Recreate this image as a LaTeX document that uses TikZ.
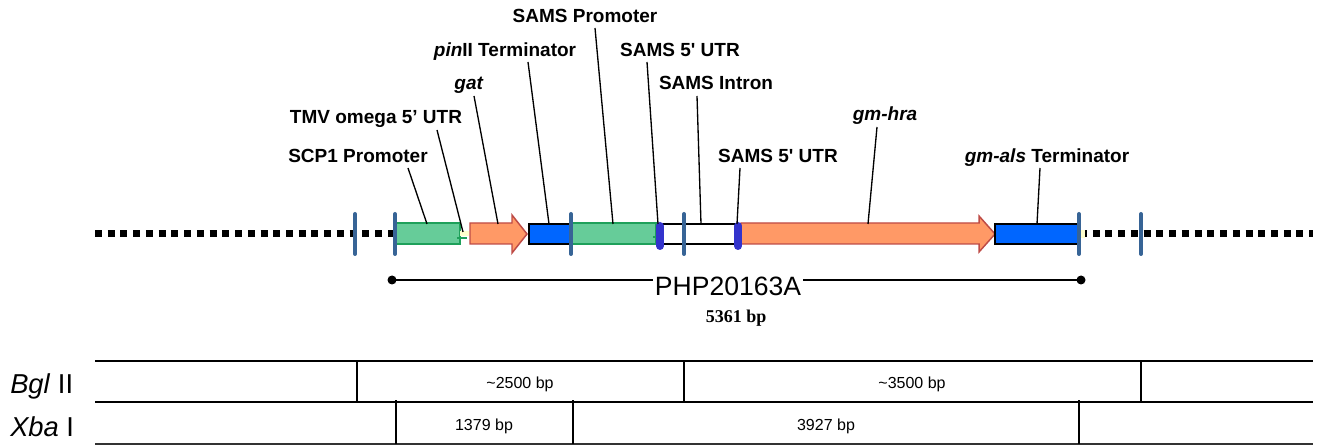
\documentclass[tikz,border=0pt]{standalone}
\usepackage{fontspec}
\setmainfont{Liberation Sans}
\newfontfamily\serifbf{Liberation Serif}
\definecolor{grn}{RGB}{102,204,153}
\definecolor{grnd}{RGB}{30,160,90}
\definecolor{org}{RGB}{255,153,102}
\definecolor{orgd}{RGB}{190,75,70}
\definecolor{blu}{RGB}{0,102,255}
\definecolor{pur}{RGB}{51,51,204}
\definecolor{sitec}{RGB}{55,100,150}
\definecolor{ylw}{RGB}{255,255,204}
\tikzset{
  lbl/.style={font=\fontsize{14.25}{17}\selectfont\bfseries, anchor=base, inner sep=0pt},
  leader/.style={line width=1pt, black},
  site/.style={draw=sitec, line width=3pt, line cap=round},
  backbone/.style={line width=5.25pt, dash pattern=on 5.25pt off 4.3pt},
  greenbox/.style={fill=grn, draw=grnd, line width=1.1pt},
  orangearrow/.style={fill=org, draw=orgd, line width=1.1pt, line join=miter},
  bluebox/.style={fill=blu, draw=black, line width=2.2pt},
  whitebox/.style={fill=white, draw=black, line width=2.2pt},
  purbar/.style={draw=pur, line width=6pt, line cap=round},
  tbl/.style={line width=1.6pt},
  tdiv/.style={line width=1.1pt},
  tlbl/.style={font=\fontsize{20.5}{24}\selectfont, anchor=base west, inner sep=0pt},
  ttxt/.style={font=\fontsize{12}{14}\selectfont, anchor=base, inner sep=0pt},
}
\begin{document}
\begin{tikzpicture}[x=0.75pt,y=-0.75pt]
\useasboundingbox (0,0) rectangle (1319,448);

% backbone
\coordinate (bbL0) at (95,234);
\coordinate (bbL1) at (395,234);
\coordinate (bbR0) at (1080,234);
\coordinate (bbR1) at (1313,234);
\draw[backbone] (bbL0) -- (bbL1);
\draw[backbone] (bbR0) -- (bbR1);

% features
\draw[greenbox] (395,223) rectangle (460,244);
\fill[ylw] (460,231) rectangle (469,236);
\draw[grnd, line width=2pt] (457,238) -- (467,238);
\draw[orangearrow] (470,223) -- (512,223) -- (512,215) -- (527,234) -- (512,253) -- (512,244) -- (470,244) -- cycle;
\draw[bluebox] (529,224) rectangle (571,244);
\draw[greenbox] (571,223) rectangle (656,244);
\draw[grnd, line width=2pt] (653,237) -- (658,237);
\draw[whitebox] (660,224) rectangle (738,244);
\draw[orangearrow] (741,223) -- (979,223) -- (979,216) -- (995,234) -- (979,252) -- (979,244) -- (741,244) -- cycle;
\draw[bluebox] (995,224) rectangle (1078,244);
\fill[ylw] (1080,230) rectangle (1085,238);
\draw[purbar] (660,226) -- (660,246);
\draw[purbar] (738,226) -- (738,246);

% restriction sites
\foreach \x in {355,395,571,684,1079,1141}
  \draw[site] (\x,214) -- (\x,254);

% labels
\node[lbl] (tSP)  at (585,23)  {SAMS Promoter};
\node[lbl] (tPin) at (505,57)  {\textit{pin}II Terminator};
\node[lbl] (tU1)  at (680,57)  {SAMS 5\textquotesingle{} UTR};
\node[lbl] (tGat) at (469,90)  {\textit{gat}};
\node[lbl] (tInt) at (716,90)  {SAMS Intron};
\node[lbl] (tTMV) at (376,124) {TMV omega 5’ UTR};
\node[lbl] (tHra) at (885,121) {\textit{gm-hra}};
\node[lbl] (tSCP) at (358,163) {SCP1 Promoter};
\node[lbl] (tU2)  at (778,163) {SAMS 5\textquotesingle{} UTR};
\node[lbl] (tAls) at (1047,163) {\textit{gm-als} Terminator};

% leader lines
\coordinate (sSCP) at (408,168); \coordinate (eSCP) at (427,224);
\coordinate (sTMV) at (437,130); \coordinate (eTMV) at (463,232);
\coordinate (sGat) at (474,96);  \coordinate (eGat) at (498,224);
\coordinate (sPin) at (528,62);  \coordinate (ePin) at (549,224);
\coordinate (sSP)  at (595,28);  \coordinate (eSP)  at (613,224);
\coordinate (sU1)  at (647,62);  \coordinate (eU1)  at (658,224);
\coordinate (sInt) at (697,96);  \coordinate (eInt) at (701,224);
\coordinate (sU2)  at (740,168); \coordinate (eU2)  at (737,224);
\coordinate (sHra) at (877,127); \coordinate (eHra) at (868,224);
\coordinate (sAls) at (1040,168);\coordinate (eAls) at (1037,224);
\foreach \n in {SCP,TMV,Gat,Pin,SP,U1,Int,U2,Hra,Als}
  \draw[leader] (s\n) -- (e\n);

% PHP20163A span
\coordinate (phpL) at (392,280);
\coordinate (phpR) at (1081,280);
\node[font=\fontsize{19.9}{22}\selectfont, anchor=base, inner sep=1.5pt] (php) at (728,296) {PHP20163A};
\draw[line width=2.2pt] (phpL) -- (phpL -| php.west);
\draw[line width=2.2pt] (php.east |- phpR) -- (phpR);
\fill (phpL) circle (4.5);
\fill (phpR) circle (4.5);
\node[font=\serifbf\fontsize{13.5}{16}\selectfont\bfseries, anchor=base, inner sep=0pt] (len) at (736,323) {5361 bp};

% digestion table
\coordinate (t0L) at (95,361);  \coordinate (t0R) at (1313,361);
\coordinate (t1L) at (95,402);  \coordinate (t1R) at (1313,402);
\coordinate (t2L) at (95,444);  \coordinate (t2R) at (1313,444);
\draw[tbl] (t0L) -- (t0R);
\draw[tbl] (t1L) -- (t1R);
\draw[tbl, line width=2.2pt, black!80] (t2L) -- (t2R);
\foreach \x in {357,684,1141} \draw[tdiv] (\x,361) -- (\x,402);
\foreach \x in {396,573,1079} \draw[tdiv] (\x,400) -- (\x,444);
\node[tlbl] (bgl) at (10,393) {\textit{Bgl} II};
\node[tlbl] (xba) at (10,436) {\textit{Xba} I};
\node[ttxt] (b1) at (520,388) {\textasciitilde 2500 bp};
\node[ttxt] (b2) at (912,388) {\textasciitilde 3500 bp};
\node[ttxt] (x1) at (484,430) {1379 bp};
\node[ttxt] (x2) at (826,430) {3927 bp};
\end{tikzpicture}
\end{document}
